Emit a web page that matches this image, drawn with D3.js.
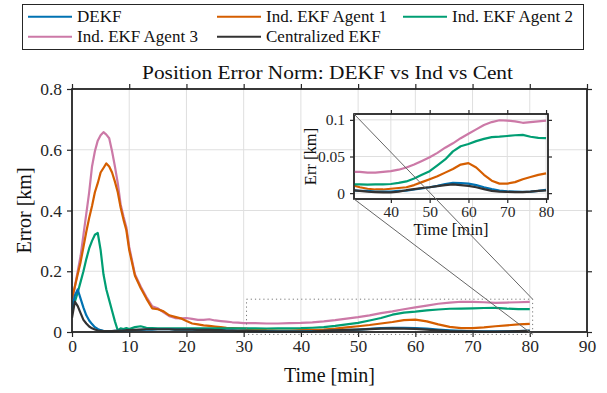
<!DOCTYPE html>
<html>
<head>
<meta charset="utf-8">
<script src="https://cdn.jsdelivr.net/npm/d3@7"></script>
<style>
  body { margin: 0; background: #fff; }
  svg { display: block; font-family: Tinos, serif; }
</style>
</head>
<body>
<div class="chart"></div>
<script>
// time samples [min]
const time = [
  0, 0.5, 1, 1.5, 2, 2.5, 3, 3.5, 4, 4.5, 5, 5.5, 6, 6.5, 7, 7.5, 8, 8.5, 9, 9.5, 10,
  11, 12, 13, 14, 15, 16, 17, 18, 19, 20, 21, 22, 23, 24, 25, 26, 27, 28, 29, 30,
  32, 34, 36, 38, 40, 42, 44, 46, 48, 50, 52, 54, 56, 58, 60, 62, 64, 66, 68, 70, 72, 74, 76, 78, 80
];

const dekf = [
  0.075, 0.12, 0.14, 0.11, 0.08, 0.055, 0.038, 0.026, 0.016, 0.010, 0.006, 0.004, 0.003, 0.003, 0.003, 0.004, 0.004, 0.004, 0.005, 0.005, 0.005,
  0.006, 0.007, 0.008, 0.008, 0.009, 0.009, 0.009, 0.008, 0.008, 0.008, 0.008, 0.007, 0.007, 0.007, 0.006, 0.006, 0.005, 0.005, 0.004, 0.004,
  0.003, 0.003, 0.002, 0.002, 0.002, 0.003, 0.0035, 0.005, 0.0065, 0.008, 0.010, 0.0125, 0.014, 0.0138, 0.013, 0.011, 0.008, 0.0055, 0.0035, 0.0023, 0.002, 0.0018, 0.002, 0.003, 0.0045
];

const agent1 = [
  0.11, 0.15, 0.19, 0.23, 0.28, 0.33, 0.375, 0.415, 0.46, 0.49, 0.525, 0.54, 0.555, 0.545, 0.525, 0.495, 0.46, 0.41, 0.37, 0.335, 0.27,
  0.185, 0.145, 0.11, 0.078, 0.075, 0.068, 0.055, 0.050, 0.045, 0.036, 0.028, 0.025, 0.022, 0.020, 0.018, 0.016, 0.014, 0.013, 0.012, 0.011,
  0.008, 0.006, 0.005, 0.005, 0.006, 0.007, 0.008, 0.011, 0.015, 0.019, 0.023, 0.028, 0.033, 0.039, 0.041, 0.035, 0.025, 0.017, 0.013, 0.013, 0.015, 0.019, 0.022, 0.025, 0.027
];

const agent2 = [
  0.10, 0.10, 0.13, 0.165, 0.20, 0.24, 0.275, 0.30, 0.32, 0.326, 0.27, 0.19, 0.14, 0.105, 0.07, 0.035, 0.005, 0.012, 0.010, 0.013, 0.010,
  0.016, 0.019, 0.014, 0.013, 0.012, 0.012, 0.012, 0.012, 0.012, 0.012, 0.012, 0.012, 0.012, 0.012, 0.012, 0.012, 0.012, 0.012, 0.012, 0.012,
  0.012, 0.0115, 0.012, 0.012, 0.0125, 0.014, 0.016, 0.020, 0.025, 0.030, 0.038, 0.046, 0.057, 0.064, 0.067, 0.071, 0.074, 0.0765, 0.077, 0.078, 0.079, 0.0795, 0.077, 0.0755, 0.075
];

const agent3 = [
  0.10, 0.15, 0.20, 0.25, 0.32, 0.39, 0.46, 0.545, 0.595, 0.63, 0.648, 0.658, 0.650, 0.638, 0.595, 0.545, 0.49, 0.42, 0.38, 0.345, 0.28,
  0.19, 0.15, 0.115, 0.085, 0.078, 0.065, 0.052, 0.046, 0.045, 0.046, 0.043, 0.040, 0.040, 0.042, 0.038, 0.036, 0.034, 0.032, 0.031, 0.029,
  0.029, 0.028, 0.028, 0.029, 0.030, 0.032, 0.035, 0.039, 0.044, 0.049, 0.055, 0.062, 0.068, 0.075, 0.081, 0.087, 0.093, 0.097, 0.0995, 0.099, 0.098, 0.096, 0.097, 0.098, 0.099
];

const central = [
  0.047, 0.10, 0.085, 0.062, 0.04, 0.028, 0.018, 0.012, 0.008, 0.005, 0.004, 0.003, 0.003, 0.003, 0.003, 0.004, 0.004, 0.005, 0.005, 0.006, 0.006,
  0.007, 0.008, 0.009, 0.009, 0.009, 0.009, 0.009, 0.008, 0.008, 0.008, 0.008, 0.007, 0.007, 0.007, 0.006, 0.006, 0.005, 0.005, 0.004, 0.004,
  0.003, 0.002, 0.0015, 0.001, 0.001, 0.002, 0.004, 0.0055, 0.007, 0.008, 0.0095, 0.011, 0.012, 0.011, 0.010, 0.008, 0.0055, 0.003, 0.002, 0.0018, 0.0015, 0.0014, 0.002, 0.003, 0.0036
];

const seriesNames = ["DEKF", "Ind. EKF Agent 1", "Ind. EKF Agent 2", "Ind. EKF Agent 3", "Centralized EKF"];
const seriesValues = [dekf, agent1, agent2, agent3, central];
const seriesColors = ["#0072B2", "#D55E00", "#009E73", "#CC79A7", "#333333"];
// draw order: agents behind, DEKF and centralized on top
const drawOrder = [3, 1, 2, 0, 4];

const xTicks = [0, 10, 20, 30, 40, 50, 60, 70, 80, 90];
const yTicks = [0, 0.2, 0.4, 0.6, 0.8];
const insetXTicks = [40, 50, 60, 70, 80];
const insetYTicks = [0, 0.05, 0.1];
const zoomX = [30.5, 80.5];
const zoomY = [-0.008, 0.108];

const width = 607, height = 393;
const axisColor = "#262626";
const gridColor = "#dfdfdf";
const fontFam = "Tinos, serif";

const svg = d3.select(".chart").append("svg")
  .attr("width", width)
  .attr("height", height);

const x = d3.scaleLinear().domain([0, 90]).range([72, 587]);
const y = d3.scaleLinear().domain([0, 0.8]).range([332, 89]);

const xi = d3.scaleLinear().domain(zoomX).range([354, 548]);
const yi = d3.scaleLinear().domain(zoomY).range([199, 114]);

const defs = svg.append("defs");
defs.append("clipPath").attr("id", "clipMain").append("rect")
  .attr("x", x(0)).attr("y", y(0.8)).attr("width", x(90) - x(0)).attr("height", y(0) - y(0.8) + 2);
defs.append("clipPath").attr("id", "clipInset").append("rect")
  .attr("x", xi(zoomX[0])).attr("y", yi(zoomY[1])).attr("width", xi(zoomX[1]) - xi(zoomX[0])).attr("height", yi(zoomY[0]) - yi(zoomY[1]));

function drawAxes(g, xs, ys, xt, yt, fmtY, fontSize, tickLen) {
  const [x0, x1] = xs.range();
  const [y0, y1] = ys.range();
  // grid
  g.append("g").selectAll("line").data(xt.filter(d => xs(d) > x0 + 1 && xs(d) < x1 - 1)).join("line")
    .attr("x1", d => xs(d)).attr("x2", d => xs(d)).attr("y1", y0).attr("y2", y1)
    .attr("stroke", gridColor).attr("stroke-width", 1);
  g.append("g").selectAll("line").data(yt.filter(d => ys(d) < y0 - 1 && ys(d) > y1 + 1)).join("line")
    .attr("x1", x0).attr("x2", x1).attr("y1", d => ys(d)).attr("y2", d => ys(d))
    .attr("stroke", gridColor).attr("stroke-width", 1);

  const axB = g.append("g").attr("transform", `translate(0,${y0})`)
    .call(d3.axisBottom(xs).tickValues(xt).tickSize(tickLen).tickSizeOuter(0).tickPadding(3));
  const axT = g.append("g").attr("transform", `translate(0,${y1})`)
    .call(d3.axisTop(xs).tickValues(xt).tickSize(tickLen).tickSizeOuter(0).tickFormat(""));
  const axL = g.append("g").attr("transform", `translate(${x0},0)`)
    .call(d3.axisLeft(ys).tickValues(yt).tickSize(tickLen).tickSizeOuter(0).tickPadding(5).tickFormat(fmtY));
  const axR = g.append("g").attr("transform", `translate(${x1},0)`)
    .call(d3.axisRight(ys).tickValues(yt).tickSize(tickLen).tickSizeOuter(0).tickFormat(""));
  [axB, axT, axL, axR].forEach(a => {
    a.attr("font-family", fontFam).attr("font-size", fontSize);
    a.selectAll(".domain").remove();
    a.selectAll("line").attr("stroke", axisColor).attr("stroke-width", 1.2);
    a.selectAll("text").attr("fill", axisColor);
  });
  g.append("rect").attr("x", x0).attr("y", y1).attr("width", x1 - x0).attr("height", y0 - y1)
    .attr("fill", "none").attr("stroke", axisColor).attr("stroke-width", 1.4);
}

// main axes
const main = svg.append("g");
drawAxes(main, x, y, xTicks, yTicks, d => d === 0 ? "0" : d3.format(".1f")(d), 17.5, 5);

const mainLine = d3.line().x(d => x(d[0])).y(d => y(d[1]));
const mainLines = main.append("g").attr("clip-path", "url(#clipMain)");
drawOrder.forEach(i => {
  mainLines.append("path")
    .datum(time.map((t, k) => [t, seriesValues[i][k]]))
    .attr("d", mainLine)
    .attr("fill", "none")
    .attr("stroke", seriesColors[i])
    .attr("stroke-width", 2.2)
    .attr("stroke-linejoin", "round");
});

// zoom rectangle
main.append("rect")
  .attr("x", x(zoomX[0])).attr("y", y(zoomY[1]))
  .attr("width", x(zoomX[1]) - x(zoomX[0])).attr("height", y(zoomY[0]) - y(zoomY[1]))
  .attr("fill", "none").attr("stroke", "#777").attr("stroke-width", 1)
  .attr("stroke-dasharray", "1.2,3");

// re-draw main frame on top of lines
main.append("rect").attr("x", x(0)).attr("y", y(0.8)).attr("width", x(90) - x(0)).attr("height", y(0) - y(0.8))
  .attr("fill", "none").attr("stroke", axisColor).attr("stroke-width", 1.4);

main.append("text").attr("x", 327.5).attr("y", 79).attr("text-anchor", "middle")
  .attr("font-size", 19).attr("fill", "#111")
  .attr("textLength", 371).attr("lengthAdjust", "spacingAndGlyphs")
  .text("Position Error Norm: DEKF vs Ind vs Cent");
main.append("text").attr("x", x(45)).attr("y", 382).attr("text-anchor", "middle")
  .attr("font-size", 20).attr("fill", "#111").text("Time [min]");
main.append("text").attr("transform", `translate(31,${y(0.4)}) rotate(-90)`).attr("text-anchor", "middle")
  .attr("font-size", 20).attr("fill", "#111").text("Error [km]");

// inset
const inset = svg.append("g");
inset.append("rect").attr("x", xi(zoomX[0])).attr("y", yi(zoomY[1]))
  .attr("width", xi(zoomX[1]) - xi(zoomX[0])).attr("height", yi(zoomY[0]) - yi(zoomY[1]))
  .attr("fill", "#fff");
drawAxes(inset, xi, yi, insetXTicks, insetYTicks, d => d === 0 ? "0" : d3.format("")(d), 15.5, 4);

const insetLine = d3.line().x(d => xi(d[0])).y(d => yi(d[1]));
const insetLines = inset.append("g").attr("clip-path", "url(#clipInset)");
drawOrder.forEach(i => {
  insetLines.append("path")
    .datum(time.map((t, k) => [t, seriesValues[i][k]]))
    .attr("d", insetLine)
    .attr("fill", "none")
    .attr("stroke", seriesColors[i])
    .attr("stroke-width", 2.2)
    .attr("stroke-linejoin", "round");
});
inset.append("rect").attr("x", xi(zoomX[0])).attr("y", yi(zoomY[1]))
  .attr("width", xi(zoomX[1]) - xi(zoomX[0])).attr("height", yi(zoomY[0]) - yi(zoomY[1]))
  .attr("fill", "none").attr("stroke", axisColor).attr("stroke-width", 1.4);

inset.append("text").attr("x", (xi(zoomX[0]) + xi(zoomX[1])) / 2).attr("y", 235).attr("text-anchor", "middle")
  .attr("font-size", 16.5).attr("fill", "#111").text("Time [min]");
inset.append("text").attr("transform", `translate(316,${(yi(zoomY[0]) + yi(zoomY[1])) / 2}) rotate(-90)`)
  .attr("text-anchor", "middle").attr("font-size", 16.5).attr("fill", "#111").text("Err [km]");

// connector lines from inset to zoom box
const connectors = [
  [[xi(zoomX[0]), yi(zoomY[1])], [x(zoomX[1]), y(zoomY[1])]],
  [[xi(zoomX[0]), yi(zoomY[0])], [x(zoomX[1]), y(zoomY[0])]]
];
svg.append("g").selectAll("line").data(connectors).join("line")
  .attr("x1", d => d[0][0]).attr("y1", d => d[0][1])
  .attr("x2", d => d[1][0]).attr("y2", d => d[1][1])
  .attr("stroke", "#666").attr("stroke-width", 1);

// legend
const legend = svg.append("g");
legend.append("rect").attr("x", 22.5).attr("y", 4.5).attr("width", 561).attr("height", 45)
  .attr("fill", "#fff").attr("stroke", axisColor).attr("stroke-width", 1);
const legendPos = [[28, 16.7], [217, 16.7], [403, 16.7], [28, 36.7], [217, 36.7]];
seriesNames.forEach((name, i) => {
  const [lx, ly] = legendPos[i];
  legend.append("line").attr("x1", lx).attr("x2", lx + 44).attr("y1", ly).attr("y2", ly)
    .attr("stroke", seriesColors[i]).attr("stroke-width", 2);
  legend.append("text").attr("x", lx + 49).attr("y", ly + 4.8).attr("font-size", 17)
    .attr("fill", "#111").text(name);
});
</script>
</body>
</html>
